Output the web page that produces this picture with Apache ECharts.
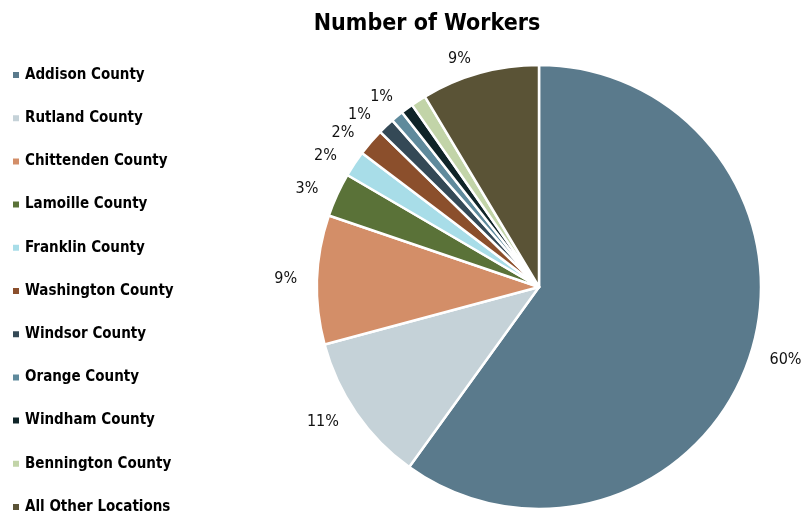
<!DOCTYPE html>
<html><head><meta charset="utf-8">
<script src="https://cdn.jsdelivr.net/npm/echarts@6/dist/echarts.min.js"></script>
<style>html,body{margin:0;padding:0;background:#fff}#c{width:810px;height:517px}</style>
</head><body><div id="c"></div>
<script>
const categories = ["Addison County","Rutland County","Chittenden County","Lamoille County","Franklin County","Washington County","Windsor County","Orange County","Windham County","Bennington County","All Other Locations"];
const values = [60.0, 10.9, 9.4, 3.2, 1.9, 2.0, 1.2, 0.9, 0.9, 1.1, 8.6];
const colors = ["#5A7A8C","#C5D2D8","#D38E68","#5A7238","#A8DDE8","#8B4F2C","#344956","#5F8A9C","#0F2428","#C2D4A8","#5A5336"];
const FONT = "'DejaVu Sans Condensed',sans-serif";
const chart = echarts.init(document.getElementById('c'));
chart.setOption({
  animation:false,
  color: colors,
  title:{text:"Number of Workers", left:422, textAlign:'center', top:8,
    textStyle:{fontFamily:FONT, fontSize:23, fontWeight:'bold', color:'#000'}},
  legend:{orient:'vertical', left:6, top:62, height:470, itemWidth:8, itemHeight:8, itemGap:27.2, icon:'rect',
    textStyle:{fontFamily:FONT, fontSize:15, fontWeight:'bold', color:'#000', lineHeight:16}},
  series:[{type:'pie', center:[539,287], radius:222, startAngle:90, clockwise:true,
    avoidLabelOverlap:false,
    itemStyle:{borderColor:'#fff', borderWidth:2.5},
    label:{show:true, position:'outside', fontFamily:FONT, fontSize:16, color:'#111',
      formatter:p=>Math.round(p.value)+'%'},
    labelLine:{show:false, length:15, length2:0},
    data: categories.map((n,i)=>({name:n, value:values[i]}))
  }]
});
</script></body></html>
